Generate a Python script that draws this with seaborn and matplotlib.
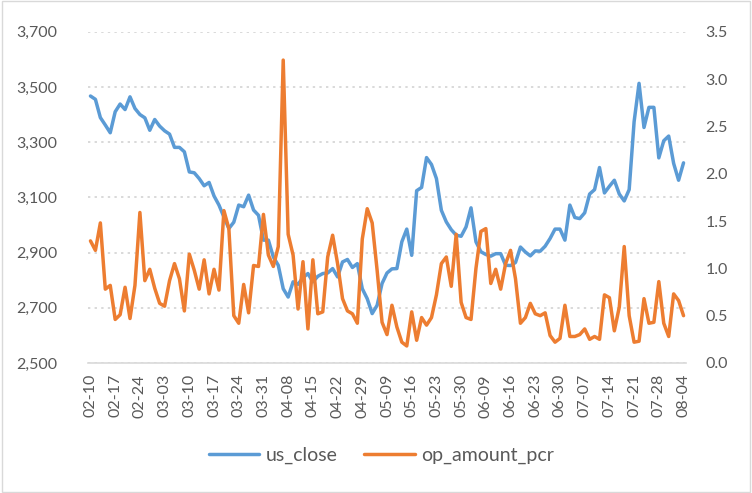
import numpy as np
import pandas as pd
import matplotlib
matplotlib.use("Agg")
import matplotlib.pyplot as plt
import seaborn as sns
from matplotlib.patches import Rectangle

us_close = [3467, 3455, 3389, 3362, 3334, 3410, 3438, 3418, 3464, 3422,
            3400, 3388, 3343, 3382, 3358, 3341, 3329, 3281, 3281, 3265,
            3192, 3189, 3168, 3142, 3154, 3105, 3072, 3029, 2987, 3010,
            3072, 3066, 3108, 3054, 3035, 2945, 2945, 2884, 2854, 2769,
            2739, 2794, 2785, 2809, 2824, 2794, 2814, 2824, 2826, 2842,
            2812, 2866, 2875, 2846, 2860, 2769, 2733, 2679, 2709, 2788,
            2826, 2841, 2842, 2939, 2985, 2890, 3124, 3136, 3244, 3219,
            3168, 3053, 3011, 2983, 2963, 2959, 2993, 3062, 2939, 2903,
            2893, 2887, 2896, 2896, 2854, 2853, 2864, 2920, 2902, 2888,
            2906, 2905, 2923, 2951, 2985, 2985, 2945, 3072, 3027, 3023,
            3044, 3112, 3128, 3208, 3116, 3140, 3162, 3112, 3087, 3128,
            3374, 3513, 3353, 3426, 3426, 3243, 3305, 3322, 3223, 3162,
            3225]

op_amount_pcr = [1.29, 1.19, 1.48, 0.78, 0.82, 0.46, 0.51, 0.80, 0.47, 0.82,
                 1.59, 0.87, 0.99, 0.79, 0.63, 0.60, 0.87, 1.05, 0.89, 0.55,
                 1.15, 0.98, 0.78, 1.09, 0.73, 0.99, 0.77, 1.61, 1.42, 0.50,
                 0.42, 0.83, 0.53, 1.03, 1.02, 1.57, 1.14, 1.02, 1.23, 3.20,
                 1.36, 1.14, 0.57, 1.07, 0.36, 1.09, 0.52, 0.54, 1.12, 1.35,
                 1.05, 0.68, 0.55, 0.52, 0.42, 1.31, 1.63, 1.48, 0.98, 0.43,
                 0.30, 0.61, 0.38, 0.22, 0.18, 0.54, 0.24, 0.48, 0.40, 0.48,
                 0.72, 1.05, 1.12, 0.81, 1.36, 0.64, 0.48, 0.46, 1.00, 1.39,
                 1.42, 0.84, 0.99, 0.78, 1.05, 1.19, 0.89, 0.42, 0.48, 0.63,
                 0.52, 0.50, 0.53, 0.29, 0.22, 0.26, 0.61, 0.28, 0.28, 0.30,
                 0.36, 0.25, 0.28, 0.25, 0.72, 0.69, 0.34, 0.59, 1.23, 0.50,
                 0.22, 0.23, 0.68, 0.42, 0.43, 0.86, 0.42, 0.28, 0.73, 0.66,
                 0.50]

tick_labels = ["02-10", "02-17", "02-24", "03-03", "03-10", "03-17", "03-24",
               "03-31", "04-08", "04-15", "04-22", "04-29", "05-09", "05-16",
               "05-23", "05-30", "06-09", "06-16", "06-23", "06-30", "07-07",
               "07-14", "07-21", "07-28", "08-04"]
label_step = 5

sns.set_style("white")
plt.rcParams["font.family"] = ["Lato", "DejaVu Sans"]

BLUE = "#5B9BD5"
ORANGE = "#ED7D31"
GRID = "#D9D9D9"
TXT = "#595959"

n = len(us_close)
df = pd.DataFrame({"idx": np.arange(n), "us_close": us_close,
                   "op_amount_pcr": op_amount_pcr})

fig = plt.figure(figsize=(7.52, 4.93), dpi=100)
ax = fig.add_axes([88/752, 1-363/493, (686-88)/752, (363-31.7)/493])
ax2 = ax.twinx()

sns.lineplot(data=df, x="idx", y="us_close", ax=ax, color=BLUE,
             linewidth=2.5, label="us_close", legend=False)
sns.lineplot(data=df, x="idx", y="op_amount_pcr", ax=ax2, color=ORANGE,
             linewidth=2.5, label="op_amount_pcr", legend=False)

ax.set_xlim(-0.5, n - 0.5)
ax.set_ylim(2500, 3700)
ax.set_yticks(np.arange(2500, 3701, 200))
ax.set_yticklabels([f"{v:,}" for v in range(2500, 3701, 200)])
ax2.set_ylim(0, 3.5)
ax2.set_yticks(np.arange(0, 3.51, 0.5))
ax2.set_yticklabels([f"{v:.1f}" for v in np.arange(0, 3.51, 0.5)])

ax.set_xticks(np.arange(0, n, label_step))
ax.set_xticklabels(tick_labels, rotation=90)
ax.set_xticks(np.arange(-0.5, n, 1), minor=True)

ax.set_xlabel("")
ax.set_ylabel("")
ax2.set_ylabel("")

for a in (ax, ax2):
    for s in a.spines.values():
        s.set_visible(False)
ax.spines["bottom"].set_visible(True)
ax.spines["bottom"].set_color(GRID)
ax.spines["bottom"].set_linewidth(1.2)

ax.yaxis.grid(True, color=GRID, linestyle=(0, (1.2, 2.2)), linewidth=1.4)
ax.set_axisbelow(True)
ax.tick_params(axis="x", which="major", length=0, pad=8, labelsize=11.5, labelcolor=TXT)
ax.tick_params(axis="x", which="minor", length=4, width=1, color=GRID, direction="out")
ax.tick_params(axis="y", length=0, pad=22, labelsize=11.5, labelcolor=TXT)
ax2.tick_params(axis="y", length=0, pad=14, labelsize=11.5, labelcolor=TXT)

h1, l1 = ax.get_legend_handles_labels()
h2, l2 = ax2.get_legend_handles_labels()
fig.legend(h1 + h2, l1 + l2, loc="center", bbox_to_anchor=(0.507, 1-455/493),
           ncol=2, frameon=False, fontsize=14, handlelength=2.6,
           columnspacing=1.4, handletextpad=0.3, labelcolor=TXT)

fig.patches.append(Rectangle((0.002, 0.003), 0.995, 0.994, transform=fig.transFigure,
                             fill=False, edgecolor=GRID, linewidth=1.0))

fig.savefig("out.png", dpi=100)
